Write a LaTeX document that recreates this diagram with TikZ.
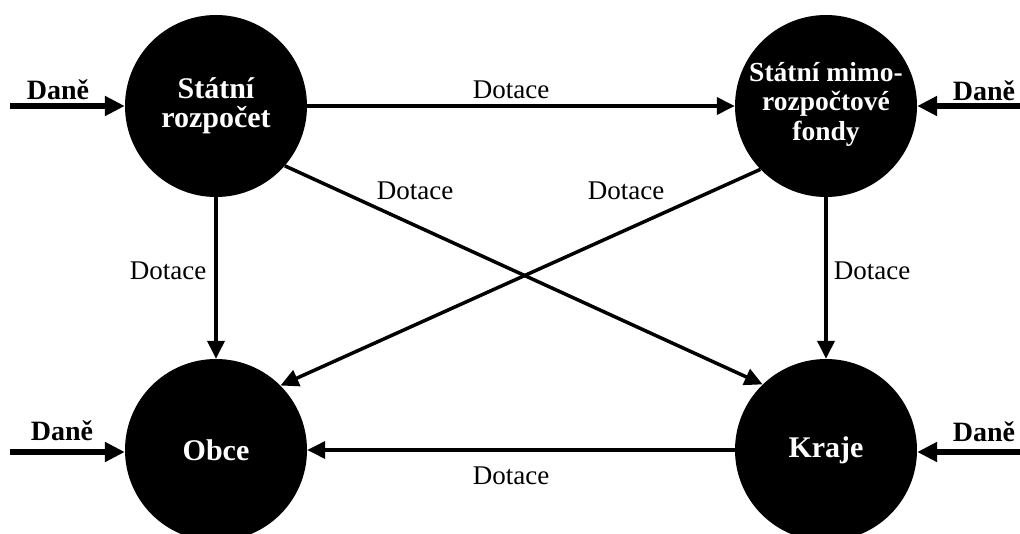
\documentclass[tikz,border=0pt]{standalone}
\usepackage{fontspec}
\setmainfont{Liberation Serif}
\usetikzlibrary{arrows.meta}
\begin{document}
\begin{tikzpicture}[x=1pt,y=-1pt,
  fund/.style={circle,fill=black,minimum size=182pt,inner sep=0pt},
  fundtxt/.style={text=white,align=center,inner sep=0pt,
    font=\fontsize{30}{28.5}\selectfont\bfseries},
  flow/.style={line width=3.5pt,-{Triangle[length=18pt,width=17pt]}},
  tax/.style={line width=6.5pt,-{Triangle[length=20pt,width=19pt]}},
  lbl/.style={anchor=base,font=\fontsize{27}{28}\selectfont},
  taxlbl/.style={anchor=base,font=\fontsize{28}{28}\selectfont\bfseries}]
\useasboundingbox (0,0) rectangle (1020,533);

% budget bodies
\node[fund] (sr) at (216,106) {};
\node[fund] (smf) at (826,106) {};
\node[fund] (obce) at (216,450) {};
\node[fund] (kraje) at (826,450) {};
\node[fundtxt] (srt) at (sr.center) {Státní\\rozpočet};
\node[fundtxt,font=\fontsize{27.5}{29.5}\selectfont\bfseries] (smft)
  at ([yshift=2]smf.center) {Státní mimo-\\rozpočtové\\fondy};
\node[fundtxt] (obcet) at (obce.center) {Obce};
\node[fundtxt] (krajet) at (kraje.center) {Kraje};

% incoming taxes
\coordinate (t1) at (10,106);
\coordinate (t2) at (1020,106);
\coordinate (t3) at (10,452);
\coordinate (t4) at (1020,452);
\draw[tax] (t1) -- (sr.west);
\draw[tax] (t2) -- (smf.east);
\draw[tax] (t3) -- (obce.west|-t3);
\draw[tax] (t4) -- (kraje.east|-t4);
\node[taxlbl] (d1) at (58,99) {Daně};
\node[taxlbl] (d2) at (984,100) {Daně};
\node[taxlbl] (d3) at (62,440) {Daně};
\node[taxlbl] (d4) at (984,441) {Daně};

% transfers between budgets
\draw[flow] (sr.east) -- (smf.west);
\draw[flow] (sr.south) -- (obce.north);
\draw[flow] (smf.south) -- (kraje.north);
\draw[flow] (kraje.west) -- (obce.east);
\draw[flow] (sr.-41.5) -- (kraje.134.6);
\draw[flow] (smf.-136.8) -- (obce.45.4);

\node[lbl] (l1) at (511,98) {Dotace};
\node[lbl] (l2) at (168,279) {Dotace};
\node[lbl] (l3) at (872,279) {Dotace};
\node[lbl] (l4) at (415,199) {Dotace};
\node[lbl] (l5) at (626,199) {Dotace};
\node[lbl] (l6) at (511,484) {Dotace};
\end{tikzpicture}
\end{document}
